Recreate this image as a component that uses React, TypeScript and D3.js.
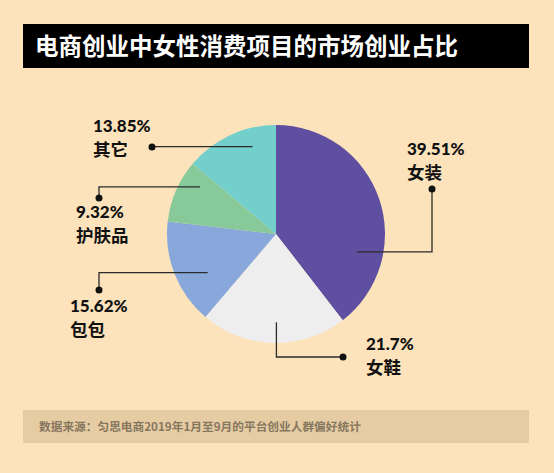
import React, { useRef, useEffect } from 'react';
import * as d3 from 'd3';

const categories: string[] = ['女装', '女鞋', '包包', '护肤品', '其它'];
const shares: number[] = [39.51, 21.7, 15.62, 9.32, 13.85];
const shareLabels: string[] = ['39.51%', '21.7%', '15.62%', '9.32%', '13.85%'];
const sliceColors: string[] = ['#5e4fa1', '#eeeeee', '#88a8dc', '#88c999', '#72cfcb'];

const titleText = '电商创业中女性消费项目的市场创业占比';
const sourceText = '数据来源：匀思电商2019年1月至9月的平台创业人群偏好统计';

// where each leader starts inside its slice (fraction of slice angle, fraction of radius),
// the elbow direction, and where the dot and text sit
interface LabelLayout {
    frac: number;
    rad: number;
    elbow: 'hv' | 'vh';
    dot: [number, number];
    text: [number, number];
}

const labelLayout: LabelLayout[] = [
    { frac: 0.72, rad: 0.76, elbow: 'hv', dot: [432, 189], text: [407, 155] },
    { frac: 0.48, rad: 0.81, elbow: 'vh', dot: [343, 357], text: [366, 350] },
    { frac: 0.36, rad: 0.72, elbow: 'hv', dot: [99, 290], text: [70, 312] },
    { frac: 0.75, rad: 0.82, elbow: 'hv', dot: [99, 198], text: [76, 218] },
    { frac: 0.70, rad: 0.83, elbow: 'hv', dot: [152, 147], text: [93, 132] }
];

const W = 554;
const H = 473;
const FONT = '"Noto Sans CJK SC", "Noto Sans", sans-serif';
const NUM_FONT = 'Lato, "Noto Sans", sans-serif';

const App: React.FC = () => {
    const svgRef = useRef<SVGSVGElement | null>(null);

    useEffect(() => {
        const svg = d3.select(svgRef.current);
        svg.selectAll('*').remove();

        svg.append('rect').attr('width', W).attr('height', H).attr('fill', '#fde3bb');

        // title bar
        svg.append('rect')
            .attr('x', 23).attr('y', 24).attr('width', 506).attr('height', 44)
            .attr('fill', '#000');
        svg.append('text')
            .attr('x', 35).attr('y', 55)
            .attr('fill', '#fff')
            .style('font-family', FONT)
            .style('font-size', '23.5px')
            .style('font-weight', 700)
            .text(titleText);

        // pie
        const cx = 276;
        const cy = 234;
        const radius = 109;

        const pie = d3.pie<number>().sort(null).value(d => d);
        const arcs = pie(shares);
        const arc = d3.arc<d3.PieArcDatum<number>>().innerRadius(0).outerRadius(radius);

        const g = svg.append('g').attr('transform', `translate(${cx},${cy})`);
        g.selectAll('path.slice')
            .data(arcs)
            .enter().append('path')
            .attr('class', 'slice')
            .attr('d', arc)
            .attr('fill', (d, i) => sliceColors[i]);

        // leader lines, dots and two-line labels
        arcs.forEach((a, i) => {
            const lay = labelLayout[i];
            const ang = a.startAngle + (a.endAngle - a.startAngle) * lay.frac;
            const r = radius * lay.rad;
            const ax = cx + Math.sin(ang) * r;
            const ay = cy - Math.cos(ang) * r;
            const [dx, dy] = lay.dot;

            const p = d3.path();
            p.moveTo(ax, ay);
            if (lay.elbow === 'hv') {
                p.lineTo(dx, ay);
                p.lineTo(dx, dy);
            } else {
                p.lineTo(ax, dy);
                p.lineTo(dx, dy);
            }
            svg.append('path')
                .attr('d', p.toString())
                .attr('fill', 'none')
                .attr('stroke', '#2b2b2b')
                .attr('stroke-width', 1.3);

            svg.append('circle')
                .attr('cx', dx).attr('cy', dy).attr('r', 3.5)
                .attr('fill', '#111');

            const [tx, ty] = lay.text;
            svg.append('text')
                .attr('x', tx).attr('y', ty - 0.5)
                .attr('fill', '#111')
                .style('font-family', NUM_FONT)
                .style('font-size', '17px')
                .style('font-weight', 900)
                .text(shareLabels[i]);
            svg.append('text')
                .attr('x', tx).attr('y', ty + 23.5)
                .attr('fill', '#111')
                .style('font-family', FONT)
                .style('font-size', '17.5px')
                .style('font-weight', 700)
                .text(categories[i]);
        });

        // source footer
        svg.append('rect')
            .attr('x', 23).attr('y', 410).attr('width', 506).attr('height', 33)
            .attr('fill', '#e6cca3');
        svg.append('text')
            .attr('x', 39).attr('y', 431)
            .attr('fill', '#86775f')
            .style('font-family', FONT)
            .style('font-size', '11.7px')
            .style('font-weight', 700)
            .text(sourceText);
    }, []);

    return (
        <svg
            ref={svgRef}
            width={W}
            height={H}
            style={{ position: 'absolute', left: 0, top: 0, display: 'block' }}
        />
    );
};

export default App;
